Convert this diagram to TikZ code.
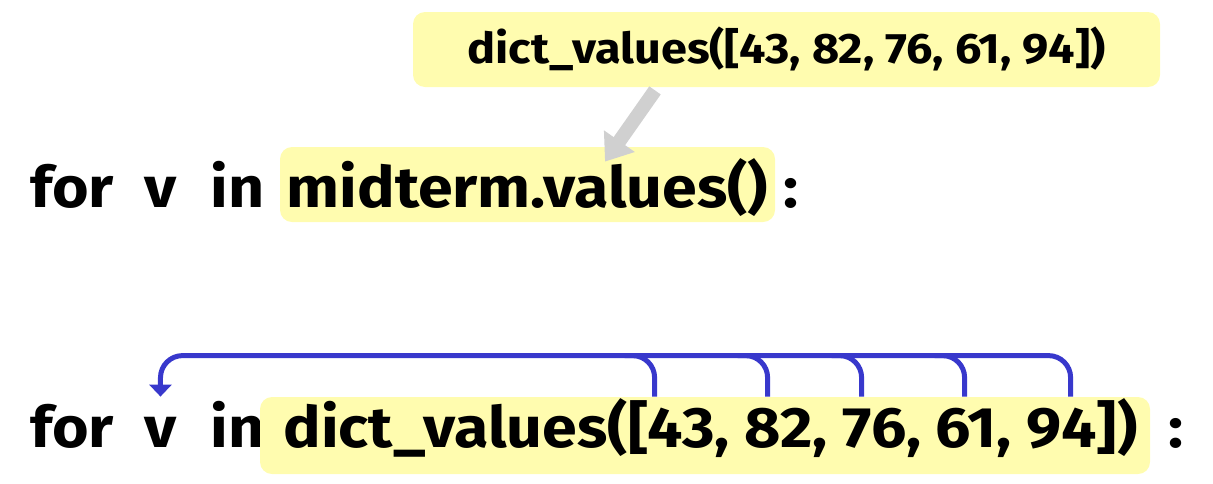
\documentclass[tikz,border=0pt]{standalone}
\usepackage{fontspec}
\setmainfont{Fira Sans}[FakeStretch=1.1]
\usetikzlibrary{arrows.meta}
\definecolor{hlyellow}{RGB}{255,252,175}
\definecolor{loopblue}{RGB}{56,56,204}
\definecolor{arrowgray}{RGB}{208,208,208}

\begin{document}
\begin{tikzpicture}[x=0.5pt,y=-0.5pt,
    code/.style={inner sep=0pt,anchor=base west,font=\fontsize{28.5}{30}\selectfont\bfseries},
    hl/.style={fill=hlyellow,rounded corners=6pt,inner sep=0pt,font=\fontsize{28.5}{30}\selectfont\bfseries},
    flow/.style={loopblue,line width=2.5pt,rounded corners=11pt}]
    \useasboundingbox (0,0) rectangle (1213,483);

    % first line
    \node[hl,minimum width=373.5pt,minimum height=37.5pt,text height=15pt,text depth=1.5pt,
          font=\fontsize{21.3}{22}\selectfont\bfseries] (dv1) at (786.5,49.5) {dict\_values([43, 82, 76, 61, 94])};
    \node[code] (for1) at (30,207) {for};
    \node[code] (v1) at (144,207) {v};
    \node[code] (in1) at (210,207) {in};
    \node[hl,minimum width=247.5pt,minimum height=37.5pt,text height=24pt,text depth=1.5pt] (mv) at (527.5,184.5) {midterm.values()};
    \node[code] (col1) at (783,207) {:};
    \draw[arrowgray,line width=7pt,-{Triangle[width=18pt,length=12.5pt]}]
        ([xshift=-65.75pt,yshift=-1.5pt]dv1.south) -- ([xshift=38.75pt,yshift=-7.5pt]mv.north);

    % second line
    \node[code] (for2) at (30,447) {for};
    \node[code] (v2) at (144,447) {v};
    \node[code] (in2) at (210,447) {in};
    \node[hl,minimum width=445pt,minimum height=38.5pt,text height=14pt,text depth=2.5pt] (dv2) at (705,435.5)
        {\hspace*{5.5pt}dict\_values([43, 82, 76, 61, 94])};
    \node[code] (col2) at (1168,447) {:};

    \coordinate (n43) at ([xshift=197.5pt]dv2.north west);
    \coordinate (n82) at ([xshift=254pt]dv2.north west);
    \coordinate (n76) at ([xshift=301pt]dv2.north west);
    \coordinate (n61) at ([xshift=352.5pt]dv2.north west);
    \coordinate (n94) at ([xshift=405.5pt]dv2.north west);

    \draw[flow,-{Triangle[width=11pt,length=6pt]}] (n94) -- ++(0,-41) -| (v2 |- dv2.north);
    \foreach \n in {43,82,76,61}
        \draw[flow] (n\n) |- ++(-30,-41);
\end{tikzpicture}
\end{document}
